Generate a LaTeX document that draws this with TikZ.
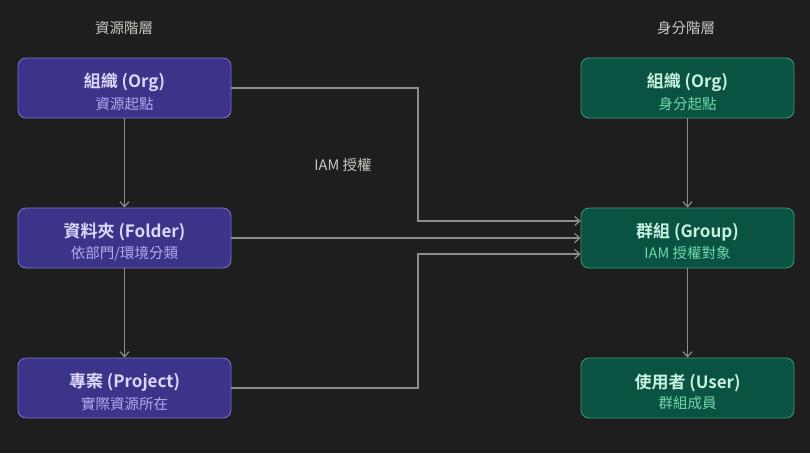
\documentclass[tikz,border=0pt]{standalone}
\usepackage{fontspec}
\setmainfont{Noto Sans CJK TC}[BoldFont={* Bold}]
\usetikzlibrary{arrows.meta,calc}
\definecolor{bg}{HTML}{1E1E1E}
\definecolor{resfill}{HTML}{3C3489}
\definecolor{resline}{HTML}{7F73D0}
\definecolor{restitle}{HTML}{DCD8FA}
\definecolor{ressub}{HTML}{B3AAF0}
\definecolor{idfill}{HTML}{0A5242}
\definecolor{idline}{HTML}{35A07C}
\definecolor{idtitle}{HTML}{C8F2DE}
\definecolor{idsub}{HTML}{6ED8A9}
\definecolor{wire}{HTML}{8C8C8A}
\definecolor{caption}{HTML}{CAC8C2}
\tikzset{
  box/.style={rounded corners=8pt, minimum width=213pt, minimum height=60pt, line width=0.8pt, inner sep=0pt, align=center},
  resbox/.style={box, fill=resfill, draw=resline},
  idbox/.style={box, fill=idfill, draw=idline},
  link/.style={draw=wire, line width=1.4pt, -{Straight Barb[length=5pt, width=9pt, line width=1.2pt]}},
  head/.style={text=caption, font=\fontsize{14.5}{17}\selectfont},
}
% two-line box label: bold title over a smaller subtitle (the strut sets the block a little lower)
\newcommand{\boxtext}[4]{{\color{#3}\fontsize{17}{20}\selectfont\bfseries\rule{0pt}{22pt}#1}\\[4pt]{\color{#4}\fontsize{14.5}{17}\selectfont #2}}
\begin{document}
\begin{tikzpicture}[x=1pt, y=-1pt]
  \fill[bg] (0,0) rectangle (810,453);
  \useasboundingbox (0,0) rectangle (810,453);

  % column headings
  \node[head] (hres) at (124,28) {資源階層};
  \node[head] (hid) at (686,28) {身分階層};

  % resource hierarchy
  \node[resbox] (org) at (124.5,88) {\boxtext{組織 (Org)}{資源起點}{restitle}{ressub}};
  \node[resbox] (folder) at (124.5,238) {\boxtext{資料夾 (Folder)}{依部門/環境分類}{restitle}{ressub}};
  \node[resbox] (project) at (124.5,388) {\boxtext{專案 (Project)}{實際資源所在}{restitle}{ressub}};

  % identity hierarchy
  \node[idbox] (iorg) at (687.5,88) {\boxtext{組織 (Org)}{身分起點}{idtitle}{idsub}};
  \node[idbox] (group) at (687.5,238) {\boxtext{群組 (Group)}{IAM 授權對象}{idtitle}{idsub}};
  \node[idbox] (user) at (687.5,388) {\boxtext{使用者 (User)}{群組成員}{idtitle}{idsub}};

  % hierarchy links
  \draw[link] (org.south) -- (folder.north);
  \draw[link] (folder.south) -- (project.north);
  \draw[link] (iorg.south) -- (group.north);
  \draw[link] (group.south) -- (user.north);

  % IAM grants into the group
  \coordinate (gtop) at ($(group.west)+(0,-17)$);
  \coordinate (gbot) at ($(group.west)+(0,16)$);
  \draw[link] (org.east) -| (418,200) |- (gtop);
  \draw[link] (folder.east) -- (group.west);
  \draw[link] (project.east) -| (418,300) |- (gbot);
  \node[head] (grant) at (343,165) {IAM 授權};
\end{tikzpicture}
\end{document}
